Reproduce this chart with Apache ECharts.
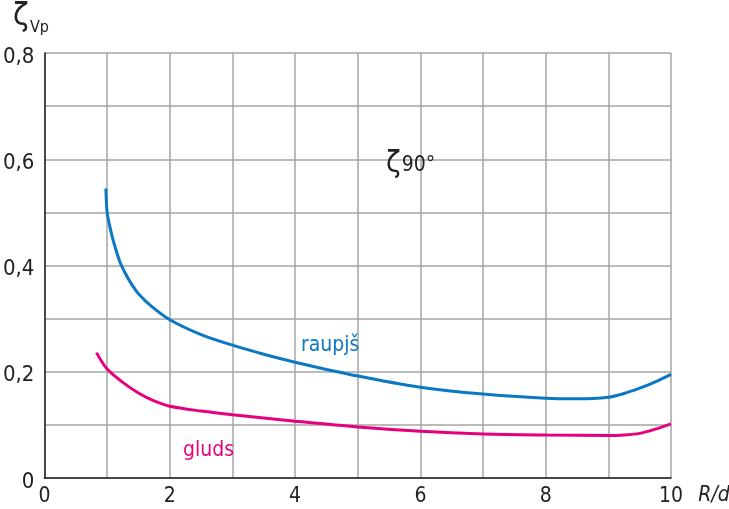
<!DOCTYPE html>
<html>
<head>
<meta charset="utf-8">
<script src="https://cdn.jsdelivr.net/npm/echarts@6/dist/echarts.min.js"></script>
<style>
  html, body { margin: 0; padding: 0; background: #fff; }
  #chart { width: 729px; height: 509px; }
</style>
</head>
<body>
<div id="chart"></div>
<script>
// Loss coefficient ζ for a 90° bend vs. relative bend radius R/d
const roughX = [0.98, 1.0, 1.05, 1.1, 1.2, 1.3, 1.4, 1.5, 1.7, 2, 2.5, 3, 3.5, 4, 5, 6, 7, 8, 8.5, 9, 9.25, 9.5, 9.75, 10];
const roughY = [0.545, 0.50, 0.470, 0.446, 0.408, 0.383, 0.363, 0.347, 0.324, 0.298, 0.270, 0.250, 0.233, 0.218, 0.192, 0.171, 0.158, 0.150, 0.149, 0.152, 0.159, 0.169, 0.181, 0.195];
const smoothX = [0.83, 1.0, 1.25, 1.5, 1.75, 2, 2.5, 3, 4, 5, 6, 7, 8, 9, 9.25, 9.5, 9.75, 10];
const smoothY = [0.236, 0.205, 0.180, 0.160, 0.145, 0.135, 0.126, 0.119, 0.107, 0.096, 0.088, 0.083, 0.081, 0.080, 0.081, 0.084, 0.092, 0.102];
const yTicks = ['0', '0,2', '0,4', '0,6', '0,8'];
const xTicks = ['0', '2', '4', '6', '8', '10'];

const seriesNames = ['raupjš', 'gluds'];
const seriesColors = ['#0a78c2', '#e6007e'];

const FONT = '"DejaVu Sans Condensed", "Liberation Sans Narrow", sans-serif';

function pairs(xs, ys) { return xs.map((x, i) => [x, ys[i]]); }

const chart = echarts.init(document.getElementById('chart'));

chart.setOption({
  animation: false,
  backgroundColor: '#fff',
  grid: { left: 44, right: 58, top: 53, bottom: 31 },
  xAxis: {
    type: 'value', min: 0, max: 10, interval: 1,
    axisLine: { show: true, lineStyle: { color: '#222', width: 1.5 } },
    axisTick: { show: false },
    splitLine: { show: true, lineStyle: { color: '#a5a5a5', width: 1.5 } },
    axisLabel: {
      color: '#222', fontSize: 21, fontFamily: FONT, margin: 8,
      formatter: v => (v % 2 === 0 ? xTicks[v / 2] : '')
    }
  },
  yAxis: {
    type: 'value', min: 0, max: 0.8, interval: 0.1,
    axisLine: { show: true, lineStyle: { color: '#222', width: 1.5 } },
    axisTick: { show: false },
    splitLine: { show: true, lineStyle: { color: '#a5a5a5', width: 1.5 } },
    axisLabel: {
      margin: 10,
      formatter: v => {
        const k = Math.round(v * 10);
        return k % 2 === 0 ? '{t|' + yTicks[k / 2] + '}' : '';
      },
      rich: {
        t: { color: '#222', fontSize: 22, fontFamily: FONT, padding: [8, 0, 0, 0] }
      }
    }
  },
  series: [
    {
      name: seriesNames[0], type: 'line', smooth: 0.3, symbol: 'none',
      lineStyle: { color: seriesColors[0], width: 3 },
      data: pairs(roughX, roughY)
    },
    {
      name: seriesNames[1], type: 'line', smooth: 0.3, symbol: 'none',
      lineStyle: { color: seriesColors[1], width: 3 },
      data: pairs(smoothX, smoothY)
    }
  ]
});

// Annotations placed in data coordinates
function at(x, y) { return chart.convertToPixel({ gridIndex: 0 }, [x, y]); }
const pR = at(4.56, 0.25);
const pG = at(2.62, 0.052);
const p90 = at(5.57, 0.59);
const pEnd = at(10, 0);

chart.setOption({
  graphic: [
    { type: 'text', left: 13, top: 1, style: { text: 'ζ', font: '32px ' + FONT, fill: '#222' } },
    { type: 'text', left: 30, top: 20, style: { text: 'Vp', font: '16px ' + FONT, fill: '#222' } },
    { type: 'text', x: p90[0], y: p90[1], style: { text: 'ζ', font: '30px ' + FONT, fill: '#222', textAlign: 'center', textVerticalAlign: 'middle' } },
    { type: 'text', x: p90[0] + 25, y: p90[1] + 1, style: { text: '90°', font: '21px ' + FONT, fill: '#222', textAlign: 'center', textVerticalAlign: 'middle' } },
    { type: 'text', x: pR[0], y: pR[1], style: { text: seriesNames[0], font: '21px ' + FONT, fill: seriesColors[0], textAlign: 'center', textVerticalAlign: 'middle' } },
    { type: 'text', x: pG[0], y: pG[1], style: { text: seriesNames[1], font: '21px ' + FONT, fill: seriesColors[1], textAlign: 'center', textVerticalAlign: 'middle' } },
    { type: 'text', x: pEnd[0] + 43, y: pEnd[1] + 18, style: { text: 'R/d', font: 'italic 21px ' + FONT, fill: '#222', textAlign: 'center', textVerticalAlign: 'middle' } }
  ]
});
</script>
</body>
</html>
